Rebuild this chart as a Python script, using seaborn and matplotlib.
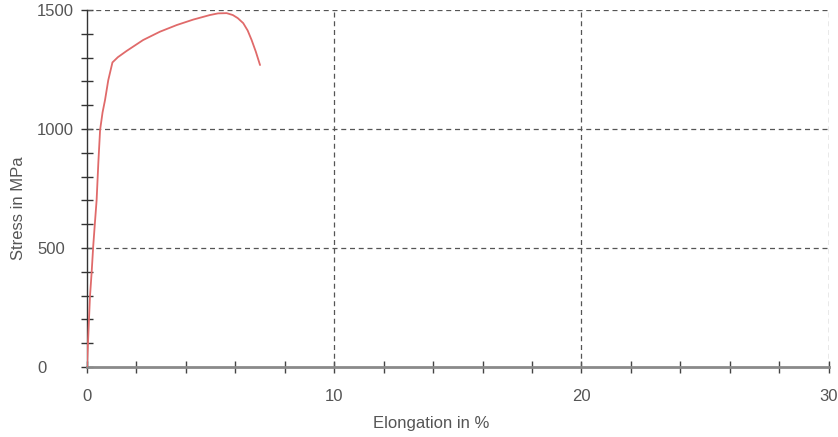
import numpy as np
import pandas as pd
import matplotlib.pyplot as plt
import seaborn as sns
from matplotlib.ticker import MultipleLocator

# stress-strain curve
elongation = [0.0, 0.06, 0.12, 0.19, 0.25, 0.32, 0.39, 0.46, 0.53, 0.63, 0.73, 0.86, 1.03,
              1.25, 1.6, 2.27, 2.95, 3.63, 4.3, 4.97, 5.3, 5.65, 5.9, 6.1, 6.32, 6.5, 6.66, 6.83, 7.0]
stress = [0, 150, 295, 400, 505, 605, 702, 860, 996, 1070, 1122, 1205, 1280,
          1302, 1328, 1374, 1409, 1437, 1460, 1479, 1486, 1487, 1479, 1466, 1445, 1414, 1374, 1325, 1269]

x_major = [0, 10, 20, 30]
y_major = [0, 500, 1000, 1500]

df = pd.DataFrame({"Elongation": elongation, "Stress": stress})

sns.set_style("white")
plt.rcParams['font.family'] = ['Liberation Sans Narrow', 'Liberation Sans', 'DejaVu Sans']

fig = plt.figure(figsize=(8.38, 4.37), dpi=100)
ax = fig.add_axes([0.1038, 0.160, 0.885, 0.817])

sns.lineplot(data=df, x="Elongation", y="Stress", sort=False, color="#e06a6a",
             linewidth=1.3, ax=ax, zorder=3)

ax.set_xlim(0, 30)
ax.set_ylim(0, 1500)
ax.set_xticks(x_major)
ax.set_yticks(y_major)
ax.xaxis.set_minor_locator(MultipleLocator(2))
ax.yaxis.set_minor_locator(MultipleLocator(100))

# dashed grid on majors
for v in x_major[1:]:
    ax.axvline(v, color="#555555", linestyle=(0, (4, 3)), linewidth=0.9, zorder=1)
for v in y_major[1:]:
    ax.axhline(v, color="#555555", linestyle=(0, (4, 3)), linewidth=0.9, zorder=1)

for s in ["top", "right"]:
    ax.spines[s].set_visible(False)
ax.spines["bottom"].set_color("#8a8a8a")
ax.spines["bottom"].set_linewidth(2.0)
ax.spines["left"].set_color("#333333")
ax.spines["left"].set_linewidth(1.0)

ax.tick_params(axis="x", which="both", bottom=True, direction="inout", length=8, width=1.0,
               color="#444444", labelsize=12, labelcolor="#555555", pad=12)
ax.tick_params(axis="y", which="both", left=True, direction="inout", length=8, width=1.0,
               color="#333333", labelsize=12, labelcolor="#555555", pad=32)
for lab in ax.get_yticklabels():
    lab.set_horizontalalignment("left")

ax.set_xlabel("Elongation in %", fontsize=12, color="#555555")
ax.set_ylabel("Stress in MPa", fontsize=12, color="#555555")
ax.xaxis.set_label_coords(0.4636, -0.137)
ax.yaxis.set_label_coords(-0.0822, 0.445)

fig.savefig("out.png", dpi=100)
